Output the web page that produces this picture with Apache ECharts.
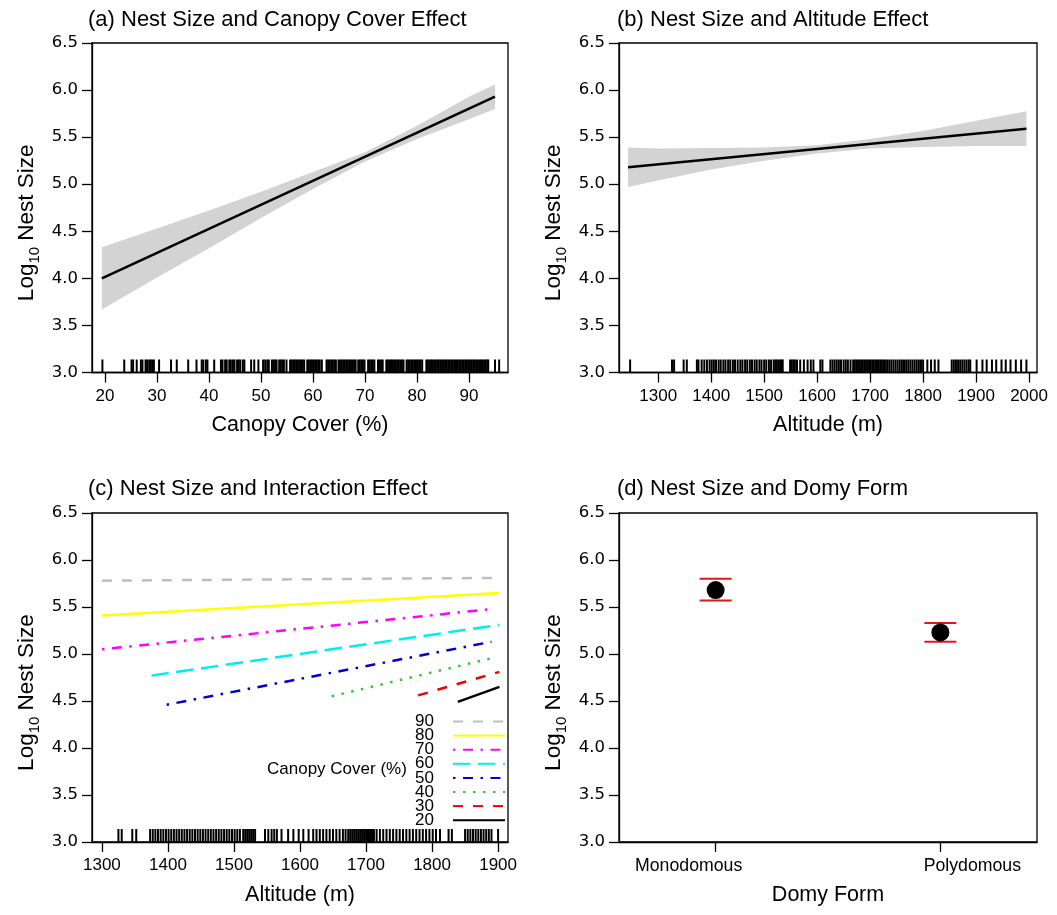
<!DOCTYPE html>
<html><head><meta charset="utf-8">
<script src="https://cdn.jsdelivr.net/npm/echarts@6/dist/echarts.min.js"></script>
<style>html,body{margin:0;padding:0;background:#fff}#c{width:1057px;height:915px}</style>
</head><body><div id="c"></div>
<script>
// ---------- DATA ----------
const panelTitles = ['(a) Nest Size and Canopy Cover Effect', '(b) Nest Size and Altitude Effect',
  '(c) Nest Size and Interaction Effect', '(d) Nest Size and Domy Form'];
const yTickMin = 3.0, yTickMax = 6.5, yTickStep = 0.5;

// (a) canopy cover
const canopyX     = [19.4, 30, 40, 50, 60, 70, 80, 90, 95];
const canopyFit   = [4.00, 4.27, 4.52, 4.78, 5.04, 5.29, 5.55, 5.81, 5.93];
const canopyUpper = [4.33, 4.53, 4.72, 4.92, 5.13, 5.34, 5.62, 5.93, 6.06];
const canopyLower = [3.67, 4.01, 4.32, 4.64, 4.95, 5.24, 5.48, 5.69, 5.80];
const canopyTicks = [20, 30, 40, 50, 60, 70, 80, 90];
const canopyRug = [19.5, 23.7, 25.1, 25.4, 26.1, 26.9, 27.2, 27.8, 28.1, 28.5, 28.8, 29.1, 29.4, 30.4,
  32.7, 33.8, 36.0, 37.6, 38.6, 38.9, 39.4, 39.7, 41.0, 42.3, 42.6, 43.1, 43.4, 43.9, 44.2, 44.6, 44.9,
  45.4, 45.7, 46.0, 46.5, 46.8, 48.1, 48.7, 49.5, 50.4, 50.8, 51.2, 51.5, 52.1, 52.4, 52.7, 53.0, 53.5,
  53.8, 54.1, 54.4, 54.9, 55.6, 55.9, 56.2, 56.5, 56.8, 57.1, 57.4, 57.7, 58.0, 58.3, 58.9, 59.2, 59.5,
  59.8, 60.1, 60.4, 60.7, 61.0, 61.3, 61.7, 62.6, 62.9, 63.2, 63.5, 63.8, 64.1, 64.4, 64.9, 65.2, 65.5,
  65.8, 66.1, 66.4, 66.7, 67.0, 67.3, 67.6, 67.9, 68.2, 68.7, 69.0, 69.3, 69.6, 69.9, 70.6, 70.9, 71.2,
  71.5, 71.8, 72.5, 72.8, 73.1, 73.4, 74.1, 74.4, 74.7, 75.0, 75.3, 75.6, 75.9, 76.2, 76.5, 76.8, 77.1,
  77.4, 78.0, 78.3, 78.6, 78.9, 79.2, 79.5, 79.8, 80.1, 80.4, 80.7, 81.0, 81.8, 82.1, 82.4, 82.7, 83.0,
  83.3, 83.6, 83.9, 84.2, 84.5, 84.8, 85.1, 85.4, 85.7, 86.0, 86.3, 86.6, 86.9, 87.2, 87.5, 87.8, 88.1,
  88.4, 88.7, 89.0, 89.3, 89.6, 89.9, 90.2, 90.5, 90.8, 91.1, 91.4, 91.7, 92.0, 92.3, 92.6, 92.9, 93.2,
  93.5, 93.7, 95.0, 95.8];

// (b) altitude
const altX     = [1243, 1300, 1400, 1500, 1600, 1700, 1800, 1900, 1995];
const altFit   = [5.18, 5.21, 5.27, 5.32, 5.37, 5.43, 5.48, 5.54, 5.59];
const altUpper = [5.39, 5.38, 5.385, 5.39, 5.415, 5.48, 5.565, 5.675, 5.775];
const altLower = [4.97, 5.04, 5.155, 5.25, 5.325, 5.38, 5.395, 5.405, 5.405];
const altTicksB = [1300, 1400, 1500, 1600, 1700, 1800, 1900, 2000];
const altRugB = [1247, 1326, 1330, 1348, 1354, 1373, 1376, 1382, 1387, 1392, 1397, 1401, 1405, 1409,
  1414, 1418, 1423, 1427, 1432, 1436, 1441, 1445, 1450, 1455, 1459, 1464, 1468, 1473, 1477, 1482, 1486,
  1491, 1495, 1500, 1504, 1509, 1513, 1518, 1521, 1524, 1527, 1530, 1533, 1535, 1549, 1552, 1555, 1558,
  1562, 1568, 1575, 1582, 1588, 1593, 1606, 1610, 1625, 1629, 1633, 1637, 1641, 1645, 1650, 1654, 1658,
  1663, 1668, 1671, 1674, 1677, 1680, 1683, 1686, 1689, 1692, 1695, 1698, 1701, 1704, 1707, 1710, 1713,
  1716, 1719, 1722, 1725, 1728, 1732, 1736, 1740, 1744, 1748, 1752, 1756, 1760, 1764, 1768, 1772, 1776,
  1780, 1784, 1788, 1792, 1796, 1800, 1808, 1815, 1822, 1829, 1854, 1858, 1862, 1866, 1870, 1874, 1878,
  1882, 1886, 1889, 1901, 1912, 1920, 1930, 1938, 1948, 1956, 1965, 1975, 1985, 1995];

// (c) interaction
const interactionLevels = ['90', '80', '70', '60', '50', '40', '30', '20'];
const interactionX0 = [1300, 1300, 1300, 1375, 1398, 1648, 1779, 1839];
const interactionY0 = [5.78, 5.41, 5.05, 4.77, 4.46, 4.55, 4.56, 4.49];
const interactionX1 = [1902, 1902, 1893, 1902, 1890, 1893, 1902, 1902];
const interactionY1 = [5.81, 5.65, 5.48, 5.31, 5.13, 4.96, 4.81, 4.65];
const altTicksC = [1300, 1400, 1500, 1600, 1700, 1800, 1900];
const altRugC = [1325, 1330, 1346, 1352, 1373, 1377, 1381, 1385, 1389, 1393, 1397, 1401, 1405, 1409,
  1413, 1417, 1421, 1425, 1429, 1433, 1437, 1441, 1445, 1449, 1453, 1457, 1461, 1465, 1469, 1473, 1477,
  1481, 1485, 1489, 1493, 1497, 1501, 1505, 1509, 1514, 1517, 1520, 1523, 1526, 1529, 1532, 1547, 1552,
  1557, 1561, 1565, 1572, 1582, 1590, 1598, 1605, 1613, 1620, 1625, 1630, 1635, 1640, 1645, 1650, 1655,
  1660, 1665, 1669, 1673, 1676, 1679, 1682, 1685, 1688, 1691, 1694, 1697, 1700, 1703, 1706, 1709, 1712,
  1716, 1721, 1726, 1731, 1736, 1741, 1746, 1751, 1756, 1761, 1766, 1771, 1776, 1781, 1786, 1791, 1796,
  1801, 1806, 1812, 1825, 1830, 1850, 1854, 1858, 1862, 1866, 1870, 1874, 1878, 1882, 1886, 1890, 1900];

// (d) domy form
const domyForms = ['Monodomous', 'Polydomous'];
const domyMean  = [5.68, 5.23];
const domyUpper = [5.80, 5.33];
const domyLower = [5.57, 5.13];

// ---------- STYLES ----------
const interactionColors = ['#bebebe', '#ffff00', '#ff00ff', '#00eeee', '#0000cd', '#32c832', '#ee0000', '#000000'];
const interactionDash = [[10, 10], 'solid', [2.5, 7.5, 10, 7.5], [17.5, 7.5], [2.5, 7.5, 10, 7.5], [2.5, 7.5], [10, 10], 'solid'];
const FONT = 'Liberation Sans';

const grids = [
  { left: 92, top: 43, width: 416, height: 329.5 },
  { left: 619, top: 43, width: 418, height: 329.5 },
  { left: 92, top: 513, width: 416, height: 329 },
  { left: 619, top: 513, width: 418, height: 329 }
].map(g => Object.assign({ show: true, borderColor: '#000', borderWidth: 1.3, backgroundColor: '#fff' }, g));

function mkX(gi, min, max, ticks, name, fmt, rich) {
  return {
    type: 'value', gridIndex: gi, min: min, max: max, name: name, nameLocation: 'middle', nameGap: 42,
    nameTextStyle: { fontFamily: FONT, fontSize: 21.5, color: '#000' },
    axisLine: { show: true, onZero: false, lineStyle: { color: '#000', width: 1.3 } },
    axisTick: { show: true, length: 10, customValues: ticks, lineStyle: { color: '#000', width: 1.3 } },
    axisLabel: { customValues: ticks, margin: 15, fontFamily: FONT, fontSize: 17, color: '#000',
      formatter: fmt || (v => String(v)), rich: rich },
    splitLine: { show: false }
  };
}
function mkY(gi) {
  return {
    type: 'value', gridIndex: gi, min: yTickMin, max: yTickMax, interval: yTickStep,
    name: '{n|Log}{s|10}{n| Nest Size}', nameLocation: 'middle', nameGap: 50,
    nameTextStyle: { color: '#000', padding: [0, 30, 0, 0], rich: {
      n: { fontFamily: FONT, fontSize: 22.5, lineHeight: 30, verticalAlign: 'middle', color: '#000' },
      s: { fontFamily: FONT, fontSize: 15, lineHeight: 15, verticalAlign: 'bottom', color: '#000' } } },
    axisLine: { show: true, onZero: false, lineStyle: { color: '#000', width: 1.3 } },
    axisTick: { show: true, length: 10, lineStyle: { color: '#000', width: 1.3 } },
    axisLabel: { margin: 14, fontFamily: 'DejaVu Sans', fontSize: 16.5, color: '#000', formatter: v => v.toFixed(1) },
    splitLine: { show: false }
  };
}

function bandSeries(idx, xs, lo, hi) {
  return {
    type: 'custom', xAxisIndex: idx, yAxisIndex: idx, silent: true, z: 1, clip: true,
    data: xs.map((x, i) => [x, lo[i], hi[i]]),
    renderItem: function (params, api) {
      if (params.dataIndex !== 0) return null;
      const pts = [];
      for (let i = 0; i < xs.length; i++) pts.push(api.coord([xs[i], hi[i]]));
      for (let i = xs.length - 1; i >= 0; i--) pts.push(api.coord([xs[i], lo[i]]));
      return { type: 'polygon', shape: { points: pts }, style: { fill: '#d3d3d3' } };
    }
  };
}
function rugSeries(idx, vals) {
  return {
    type: 'custom', xAxisIndex: idx, yAxisIndex: idx, silent: true, z: 3,
    data: vals.map(v => [v, yTickMin]),
    renderItem: function (params, api) {
      const p = api.coord([api.value(0), api.value(1)]);
      return { type: 'line', shape: { x1: p[0], y1: p[1], x2: p[0], y2: p[1] - 13 },
        style: { stroke: '#000', lineWidth: 2 } };
    }
  };
}
function fitSeries(idx, xs, ys) {
  return { type: 'line', xAxisIndex: idx, yAxisIndex: idx, symbol: 'none', silent: true, z: 4,
    data: [[xs[0], ys[0]], [xs[xs.length - 1], ys[ys.length - 1]]],
    lineStyle: { color: '#000', width: 2.6 } };
}

const series = [
  bandSeries(0, canopyX, canopyLower, canopyUpper),
  fitSeries(0, canopyX, canopyFit),
  rugSeries(0, canopyRug),
  bandSeries(1, altX, altLower, altUpper),
  fitSeries(1, altX, altFit),
  rugSeries(1, altRugB),
  rugSeries(2, altRugC)
];
interactionLevels.forEach((lv, i) => {
  series.push({
    type: 'line', name: lv, xAxisIndex: 2, yAxisIndex: 2, symbol: 'none', silent: true, z: 4,
    data: [[interactionX0[i], interactionY0[i]], [interactionX1[i], interactionY1[i]]],
    lineStyle: { color: interactionColors[i], width: 2.5, type: interactionDash[i] },
    itemStyle: { color: interactionColors[i] }
  });
});
series.push({
  type: 'custom', xAxisIndex: 3, yAxisIndex: 3, silent: true, z: 3,
  data: domyForms.map((f, i) => [i + 1, domyLower[i], domyUpper[i]]),
  renderItem: function (params, api) {
    const lo = api.coord([api.value(0), api.value(1)]);
    const hi = api.coord([api.value(0), api.value(2)]);
    const w = 16;
    return { type: 'group', children: [
      { type: 'line', shape: { x1: lo[0] - w, y1: lo[1], x2: lo[0] + w, y2: lo[1] }, style: { stroke: '#e3151a', lineWidth: 2 } },
      { type: 'line', shape: { x1: hi[0] - w, y1: hi[1], x2: hi[0] + w, y2: hi[1] }, style: { stroke: '#e3151a', lineWidth: 2 } }
    ] };
  }
});
series.push({
  type: 'scatter', xAxisIndex: 3, yAxisIndex: 3, symbol: 'circle', symbolSize: 18, silent: true, z: 5,
  data: domyMean.map((m, i) => [i + 1, m]), itemStyle: { color: '#000', opacity: 1 }
});

const titleLeft = [88, 617, 88, 617], titleTop = [9, 9, 478, 478];
const option = {
  animation: false,
  backgroundColor: '#fff',
  title: panelTitles.map((t, i) => ({ text: t, left: titleLeft[i], top: titleTop[i], padding: 0,
    textStyle: { fontFamily: FONT, fontSize: 22, fontWeight: 'normal', color: '#000' } })),
  grid: grids,
  xAxis: [
    mkX(0, 17.5, 97.5, canopyTicks, 'Canopy Cover (%)'),
    mkX(1, 1226, 2015, altTicksB, 'Altitude (m)'),
    mkX(2, 1285, 1915, altTicksC, 'Altitude (m)'),
    mkX(3, 0.57, 2.43, [1, 2], 'Domy Form', v => (Math.round(v) === 1 ? '{m|' : '{p|') + domyForms[Math.round(v) - 1] + '}',
      { m: { fontFamily: FONT, fontSize: 17.7, color: '#000', padding: [0, 54, 0, 0] },
        p: { fontFamily: FONT, fontSize: 17.7, color: '#000', padding: [0, 0, 0, 64] } })
  ],
  yAxis: [mkY(0), mkY(1), mkY(2), mkY(3)],
  legend: {
    orient: 'vertical', right: 551, top: 713, itemGap: -2.9, itemWidth: 52, itemHeight: 14, align: 'right',
    padding: 0, selectedMode: false, data: interactionLevels,
    itemStyle: { opacity: 0 },
    textStyle: { fontFamily: FONT, fontSize: 17, color: '#000', lineHeight: 14, padding: [0, 14, 0, 0] }
  },
  graphic: [{ type: 'text', left: 267, top: 761,
    style: { text: 'Canopy Cover (%)', font: '17px "Liberation Sans"', fill: '#000' } }],
  series: series
};
const chart = echarts.init(document.getElementById('c'), null, { renderer: 'canvas' });
chart.setOption(option);
</script></body></html>
